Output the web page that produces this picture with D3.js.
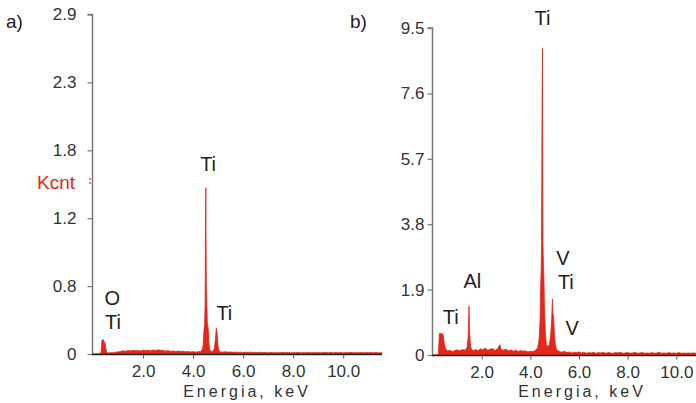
<!DOCTYPE html>
<html>
<head>
<meta charset="utf-8">
<script src="https://cdn.jsdelivr.net/npm/d3@7"></script>
<style>
  html, body { margin: 0; padding: 0; background: #fff; }
  svg text { font-family: "Liberation Sans", Arial, sans-serif; }
  .tick-label { font-size: 17px; fill: #333; }
  .peak-label { font-size: 20px; fill: #222; }
  .axis-title { font-size: 16px; fill: #333; letter-spacing: 3px; }
</style>
</head>
<body>
<div id="chart"></div>
<script>
// EDS spectrum, panel a) -- [energy keV, Kcnt]
const spectrumA = [
  [0.00, 0], [0.30, 0], [0.33, 0.03], [0.35, 0.11], [0.37, 0.12], [0.39, 0.10],
  [0.41, 0.125], [0.43, 0.11], [0.45, 0.09], [0.47, 0.10], [0.50, 0.06], [0.53, 0.03],
  [0.56, 0.012], [0.60, 0.008], [0.70, 0.012], [0.80, 0.010], [0.90, 0.015],
  [1.00, 0.018], [1.10, 0.022], [1.20, 0.028], [1.30, 0.024], [1.40, 0.030],
  [1.50, 0.026], [1.60, 0.032], [1.70, 0.028], [1.80, 0.030], [1.90, 0.025],
  [2.00, 0.033], [2.10, 0.029], [2.20, 0.031], [2.30, 0.027], [2.40, 0.034],
  [2.50, 0.030], [2.60, 0.036], [2.70, 0.032], [2.80, 0.030], [2.90, 0.026],
  [3.00, 0.028], [3.10, 0.024], [3.20, 0.026], [3.30, 0.022], [3.40, 0.025],
  [3.50, 0.021], [3.60, 0.023], [3.70, 0.019], [3.80, 0.021], [3.90, 0.018],
  [4.00, 0.020], [4.10, 0.017], [4.20, 0.019], [4.30, 0.022], [4.36, 0.035],
  [4.40, 0.07], [4.42, 0.16], [4.44, 0.22], [4.46, 0.25], [4.48, 0.42],
  [4.49, 0.92], [4.50, 1.10], [4.51, 1.42], [4.52, 0.93], [4.53, 0.60],
  [4.55, 0.44], [4.57, 0.26], [4.59, 0.24], [4.61, 0.20], [4.63, 0.10],
  [4.66, 0.04], [4.70, 0.025], [4.75, 0.02], [4.80, 0.025], [4.85, 0.05],
  [4.89, 0.12], [4.91, 0.17], [4.93, 0.22], [4.95, 0.20], [4.97, 0.14],
  [5.00, 0.06], [5.04, 0.025], [5.10, 0.018], [5.20, 0.016], [5.30, 0.020],
  [5.40, 0.015], [5.50, 0.018], [5.60, 0.014], [5.70, 0.017], [5.80, 0.013],
  [5.90, 0.016], [6.00, 0.012], [6.10, 0.015], [6.20, 0.013], [6.30, 0.016],
  [6.40, 0.012], [6.50, 0.014], [6.60, 0.011], [6.70, 0.015], [6.80, 0.012],
  [6.90, 0.013], [7.00, 0.010], [7.10, 0.014], [7.20, 0.011], [7.30, 0.013],
  [7.40, 0.010], [7.50, 0.012], [7.60, 0.014], [7.70, 0.011], [7.80, 0.013],
  [7.90, 0.010], [8.00, 0.012], [8.10, 0.011], [8.20, 0.014], [8.30, 0.010],
  [8.40, 0.012], [8.50, 0.011], [8.60, 0.013], [8.70, 0.010], [8.80, 0.012],
  [8.90, 0.011], [9.00, 0.013], [9.10, 0.010], [9.20, 0.012], [9.30, 0.014],
  [9.40, 0.011], [9.50, 0.013], [9.60, 0.010], [9.70, 0.012], [9.80, 0.011],
  [9.90, 0.013], [10.00, 0.010], [10.10, 0.012], [10.20, 0.011], [10.30, 0.014],
  [10.40, 0.010], [10.50, 0.012], [10.60, 0.011], [10.70, 0.013], [10.80, 0.010],
  [10.90, 0.012], [11.00, 0.011], [11.10, 0.013], [11.20, 0.010], [11.30, 0.012],
  [11.40, 0.011], [11.55, 0.010]
];

// EDS spectrum, panel b) -- [energy keV, Kcnt]
const spectrumB = [
  [0.00, 0], [0.22, 0], [0.24, 0.30], [0.26, 0.62], [0.30, 0.64], [0.34, 0.60],
  [0.38, 0.63], [0.42, 0.58], [0.46, 0.35], [0.50, 0.22], [0.55, 0.15],
  [0.60, 0.12], [0.70, 0.14], [0.80, 0.10], [0.90, 0.13], [1.00, 0.15],
  [1.10, 0.12], [1.20, 0.16], [1.30, 0.14], [1.40, 0.22], [1.45, 0.55],
  [1.48, 1.42], [1.50, 0.80], [1.53, 0.35], [1.57, 0.18], [1.65, 0.13],
  [1.75, 0.16], [1.85, 0.12], [1.95, 0.18], [2.05, 0.15], [2.15, 0.20],
  [2.25, 0.14], [2.35, 0.17], [2.45, 0.19], [2.55, 0.13], [2.65, 0.18],
  [2.75, 0.30], [2.80, 0.16], [2.90, 0.14], [3.00, 0.17], [3.10, 0.12],
  [3.20, 0.15], [3.30, 0.11], [3.40, 0.14], [3.50, 0.10], [3.60, 0.13],
  [3.70, 0.11], [3.80, 0.12], [3.90, 0.09], [4.00, 0.11], [4.10, 0.10],
  [4.20, 0.13], [4.30, 0.20], [4.36, 0.45], [4.40, 1.00], [4.42, 1.90],
  [4.44, 2.30], [4.46, 3.10], [4.48, 7.00], [4.50, 8.90], [4.52, 3.20],
  [4.54, 2.60], [4.56, 2.20], [4.58, 1.40], [4.62, 0.60], [4.66, 0.30],
  [4.72, 0.25], [4.78, 0.30], [4.84, 0.60], [4.88, 1.10], [4.91, 1.63],
  [4.93, 1.20], [4.96, 1.10], [4.99, 0.60], [5.03, 0.30], [5.08, 0.15],
  [5.20, 0.10], [5.30, 0.08], [5.40, 0.11], [5.50, 0.07], [5.60, 0.09],
  [5.70, 0.06], [5.80, 0.08], [5.90, 0.07], [6.00, 0.09], [6.10, 0.06],
  [6.20, 0.08], [6.30, 0.05], [6.40, 0.07], [6.50, 0.06], [6.60, 0.08],
  [6.70, 0.05], [6.80, 0.07], [6.90, 0.06], [7.00, 0.08], [7.10, 0.05],
  [7.20, 0.07], [7.30, 0.06], [7.40, 0.05], [7.50, 0.07], [7.60, 0.06],
  [7.70, 0.08], [7.80, 0.05], [7.90, 0.06], [8.00, 0.07], [8.10, 0.05],
  [8.20, 0.06], [8.30, 0.08], [8.40, 0.05], [8.50, 0.06], [8.60, 0.07],
  [8.70, 0.05], [8.80, 0.06], [8.90, 0.05], [9.00, 0.07], [9.10, 0.05],
  [9.20, 0.06], [9.30, 0.08], [9.40, 0.05], [9.50, 0.06], [9.60, 0.05],
  [9.70, 0.07], [9.80, 0.05], [9.90, 0.06], [10.00, 0.05], [10.10, 0.07],
  [10.20, 0.05], [10.30, 0.06], [10.40, 0.05], [10.50, 0.06], [10.60, 0.05],
  [10.70, 0.06], [10.85, 0.05]
];

const xTickValues = [2, 4, 6, 8, 10];
const yTickLabelsA = ["0", "0.8", "1.2", "1.8", "2.3", "2.9"];
const yTickLabelsB = ["0", "1.9", "3.8", "5.7", "7.6", "9.5"];

// element labels: [text, energy, Kcnt]
const peakLabelsA = [
  ["O", 0.77, 0.48], ["Ti", 0.80, 0.27], ["Ti", 4.60, 1.62], ["Ti", 5.25, 0.35]
];
const peakLabelsB = [
  ["Ti", 0.73, 1.10], ["Al", 1.62, 2.14], ["Ti", 4.50, 9.80],
  ["V", 5.34, 2.83], ["Ti", 5.46, 2.11], ["V", 5.72, 0.79]
];

const W = 696, H = 403;
const RED = "#e2281c";

const svg = d3.select("#chart").append("svg")
  .attr("width", W)
  .attr("height", H)
  .attr("viewBox", [0, 0, W, H]);

function drawPanel(opt) {
  const x = d3.scaleLinear().domain([0, opt.xMax]).range([opt.x0, opt.x1]);
  const y = d3.scaleLinear().domain([0, opt.yMax]).range([opt.y0, opt.y1]);
  const g = svg.append("g");

  // spectrum
  const area = d3.area()
    .x(function (d) { return x(d[0]); })
    .y0(y(0))
    .y1(function (d) { return y(d[1]); });

  g.append("path")
    .datum(opt.data)
    .attr("d", area)
    .attr("fill", RED)
    .attr("stroke", RED)
    .attr("stroke-width", 0.8)
    .attr("stroke-linejoin", "round");

  // y axis
  const yTicks = d3.range(opt.yLabels.length).map(function (i) {
    return i * opt.yMax / (opt.yLabels.length - 1);
  });
  const yAxis = d3.axisLeft(y)
    .tickValues(yTicks)
    .tickSize(opt.yTickSize)
    .tickPadding(opt.yPad)
    .tickFormat(function (d, i) { return opt.yLabels[i]; });

  const ya = g.append("g")
    .attr("transform", `translate(${opt.x0 - 0.5},0)`)
    .call(yAxis);
  ya.select(".domain").attr("stroke", "#777").attr("stroke-width", 1.5)
    .attr("d", `M-${opt.yTickSize},${y(opt.yMax)}H0V${y(0)}`);
  ya.selectAll(".tick line").attr("stroke", "#777").attr("stroke-width", 1.2);
  ya.selectAll(".tick text").attr("class", "tick-label")
    .attr("font-size", null).attr("font-family", null);

  // x axis
  const xAxis = d3.axisBottom(x)
    .tickValues(xTickValues)
    .tickSize(4)
    .tickPadding(6)
    .tickFormat(d3.format(".1f"));

  const xa = g.append("g")
    .attr("transform", `translate(0,${opt.y0 + 0.5})`)
    .call(xAxis);
  xa.select(".domain").attr("stroke", "#222").attr("stroke-width", 1.6)
    .attr("d", `M${opt.x0 - 1},0H${opt.axisEnd}`);
  xa.selectAll(".tick line").attr("stroke", "#555");
  xa.selectAll(".tick text").attr("class", "tick-label")
    .attr("font-size", null).attr("font-family", null);

  g.append("text")
    .attr("class", "axis-title")
    .attr("x", opt.titleX)
    .attr("y", 397)
    .attr("text-anchor", "middle")
    .text("Energia, keV");

  // panel letter
  g.append("text")
    .attr("x", opt.letterX)
    .attr("y", 28)
    .attr("font-size", 19)
    .attr("fill", "#222")
    .text(opt.letter);

  g.selectAll(".peak-label")
    .data(opt.labels)
    .join("text")
    .attr("class", "peak-label")
    .attr("x", function (d) { return x(d[1]); })
    .attr("y", function (d) { return y(d[2]); })
    .attr("text-anchor", "middle")
    .attr("dominant-baseline", "central")
    .text(function (d) { return d[0]; });

  return { x: x, y: y };
}

drawPanel({
  data: spectrumA, xMax: 11.55, yMax: 2.9,
  x0: 93, x1: 382, y0: 354, y1: 14.5, axisEnd: 382,
  yLabels: yTickLabelsA, yTickSize: 5, yPad: 11,
  titleX: 247, letter: "a)", letterX: 6, labels: peakLabelsA
});

drawPanel({
  data: spectrumB, xMax: 10.85, yMax: 9.5,
  x0: 433, x1: 697, y0: 355, y1: 28, axisEnd: 697,
  yLabels: yTickLabelsB, yTickSize: 5, yPad: 3,
  titleX: 582, letter: "b)", letterX: 350, labels: peakLabelsB
});

// red "Kcnt" unit label of panel a
svg.append("text")
  .attr("x", 75)
  .attr("y", 182)
  .attr("text-anchor", "end")
  .attr("dominant-baseline", "central")
  .attr("font-size", 19)
  .attr("fill", RED)
  .text("Kcnt");

svg.append("line")
  .attr("x1", 90).attr("x2", 90)
  .attr("y1", 178).attr("y2", 186)
  .attr("stroke", RED)
  .attr("stroke-width", 1.2)
  .attr("stroke-dasharray", "2,2");
</script>
</body>
</html>
